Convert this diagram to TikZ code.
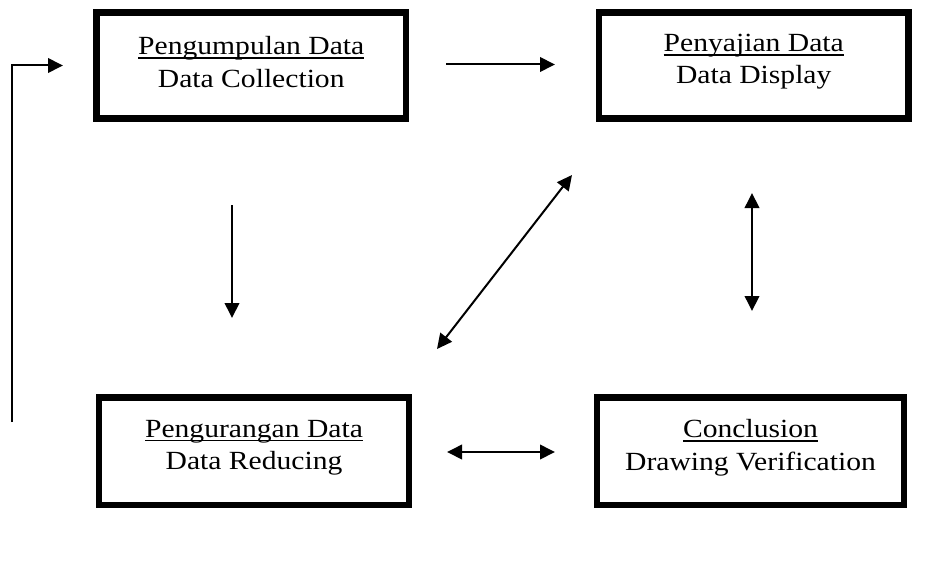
\documentclass[tikz,border=0pt]{standalone}
\usepackage{fontspec}
\usepackage{graphicx}
\setmainfont{Liberation Serif}
\usetikzlibrary{arrows.meta}

% underline set close to the baseline, crossing the descenders
\newcommand\headline[1]{\setbox0\hbox{#1}\rlap{\rule[-4pt]{\wd0}{1.7pt}}\box0}
% slightly widened lettering
\newcommand\wide[1]{\scalebox{1.13}[1]{#1}}

\begin{document}
\begin{tikzpicture}[x=1pt,y=-1pt,
  stage/.style={draw, line width=6.5pt, minimum width=309.5pt, minimum height=106pt, inner sep=0pt},
  caption/.style={align=center, font=\fontsize{26.2}{32.3}\selectfont, inner sep=0pt, yshift=3.5pt},
  tip/.tip={Triangle[length=15pt,width=14.5pt]},
  link/.style={line width=2pt, -tip},
  twoway/.style={line width=2pt, tip-tip}]

\useasboundingbox (0,0) rectangle (948,578);

% the four stages
\node[stage] (collect) at (251.25,65.5) {};
\node[stage] (display) at (753.75,65.5) {};
\node[stage, minimum width=310pt, minimum height=107.5pt] (reduce) at (254,451.25) {};
\node[stage, minimum width=307pt, minimum height=107.5pt] (conclude) at (750.5,451.25) {};

\node[caption] (collect-text) at (collect.center) {\wide{\headline{Pengumpulan Data}}\\\wide{Data Collection}};
\node[caption] (display-text) at (display.center) {\wide{\headline{Penyajian Data}}\\\wide{Data Display}};
\node[caption] (reduce-text) at (reduce.center) {\wide{\headline{Pengurangan Data}}\\\wide{Data Reducing}};
\node[caption] (conclude-text) at (conclude.center) {\wide{\headline{Conclusion}}\\\wide{Drawing Verification}};

% arrow end points
\coordinate (fb-start) at (12,422);
\coordinate (fb-end) at (63,65.5);
\coordinate (top-a) at (446,64.5);
\coordinate (top-b) at (555,64.5);
\coordinate (down-a) at (232,205);
\coordinate (down-b) at (232,318);
\coordinate (diag-a) at (437,349);
\coordinate (diag-b) at (572,175);
\coordinate (right-a) at (752,193);
\coordinate (right-b) at (752,311);
\coordinate (bot-a) at (447,452);
\coordinate (bot-b) at (555,452);

% connectors
\draw[link] (fb-start) |- (fb-end);
\draw[link] (top-a) -- (top-b);
\draw[link] (down-a) -- (down-b);
\draw[twoway] (diag-a) -- (diag-b);
\draw[twoway] (right-a) -- (right-b);
\draw[twoway] (bot-a) -- (bot-b);
\end{tikzpicture}
\end{document}
